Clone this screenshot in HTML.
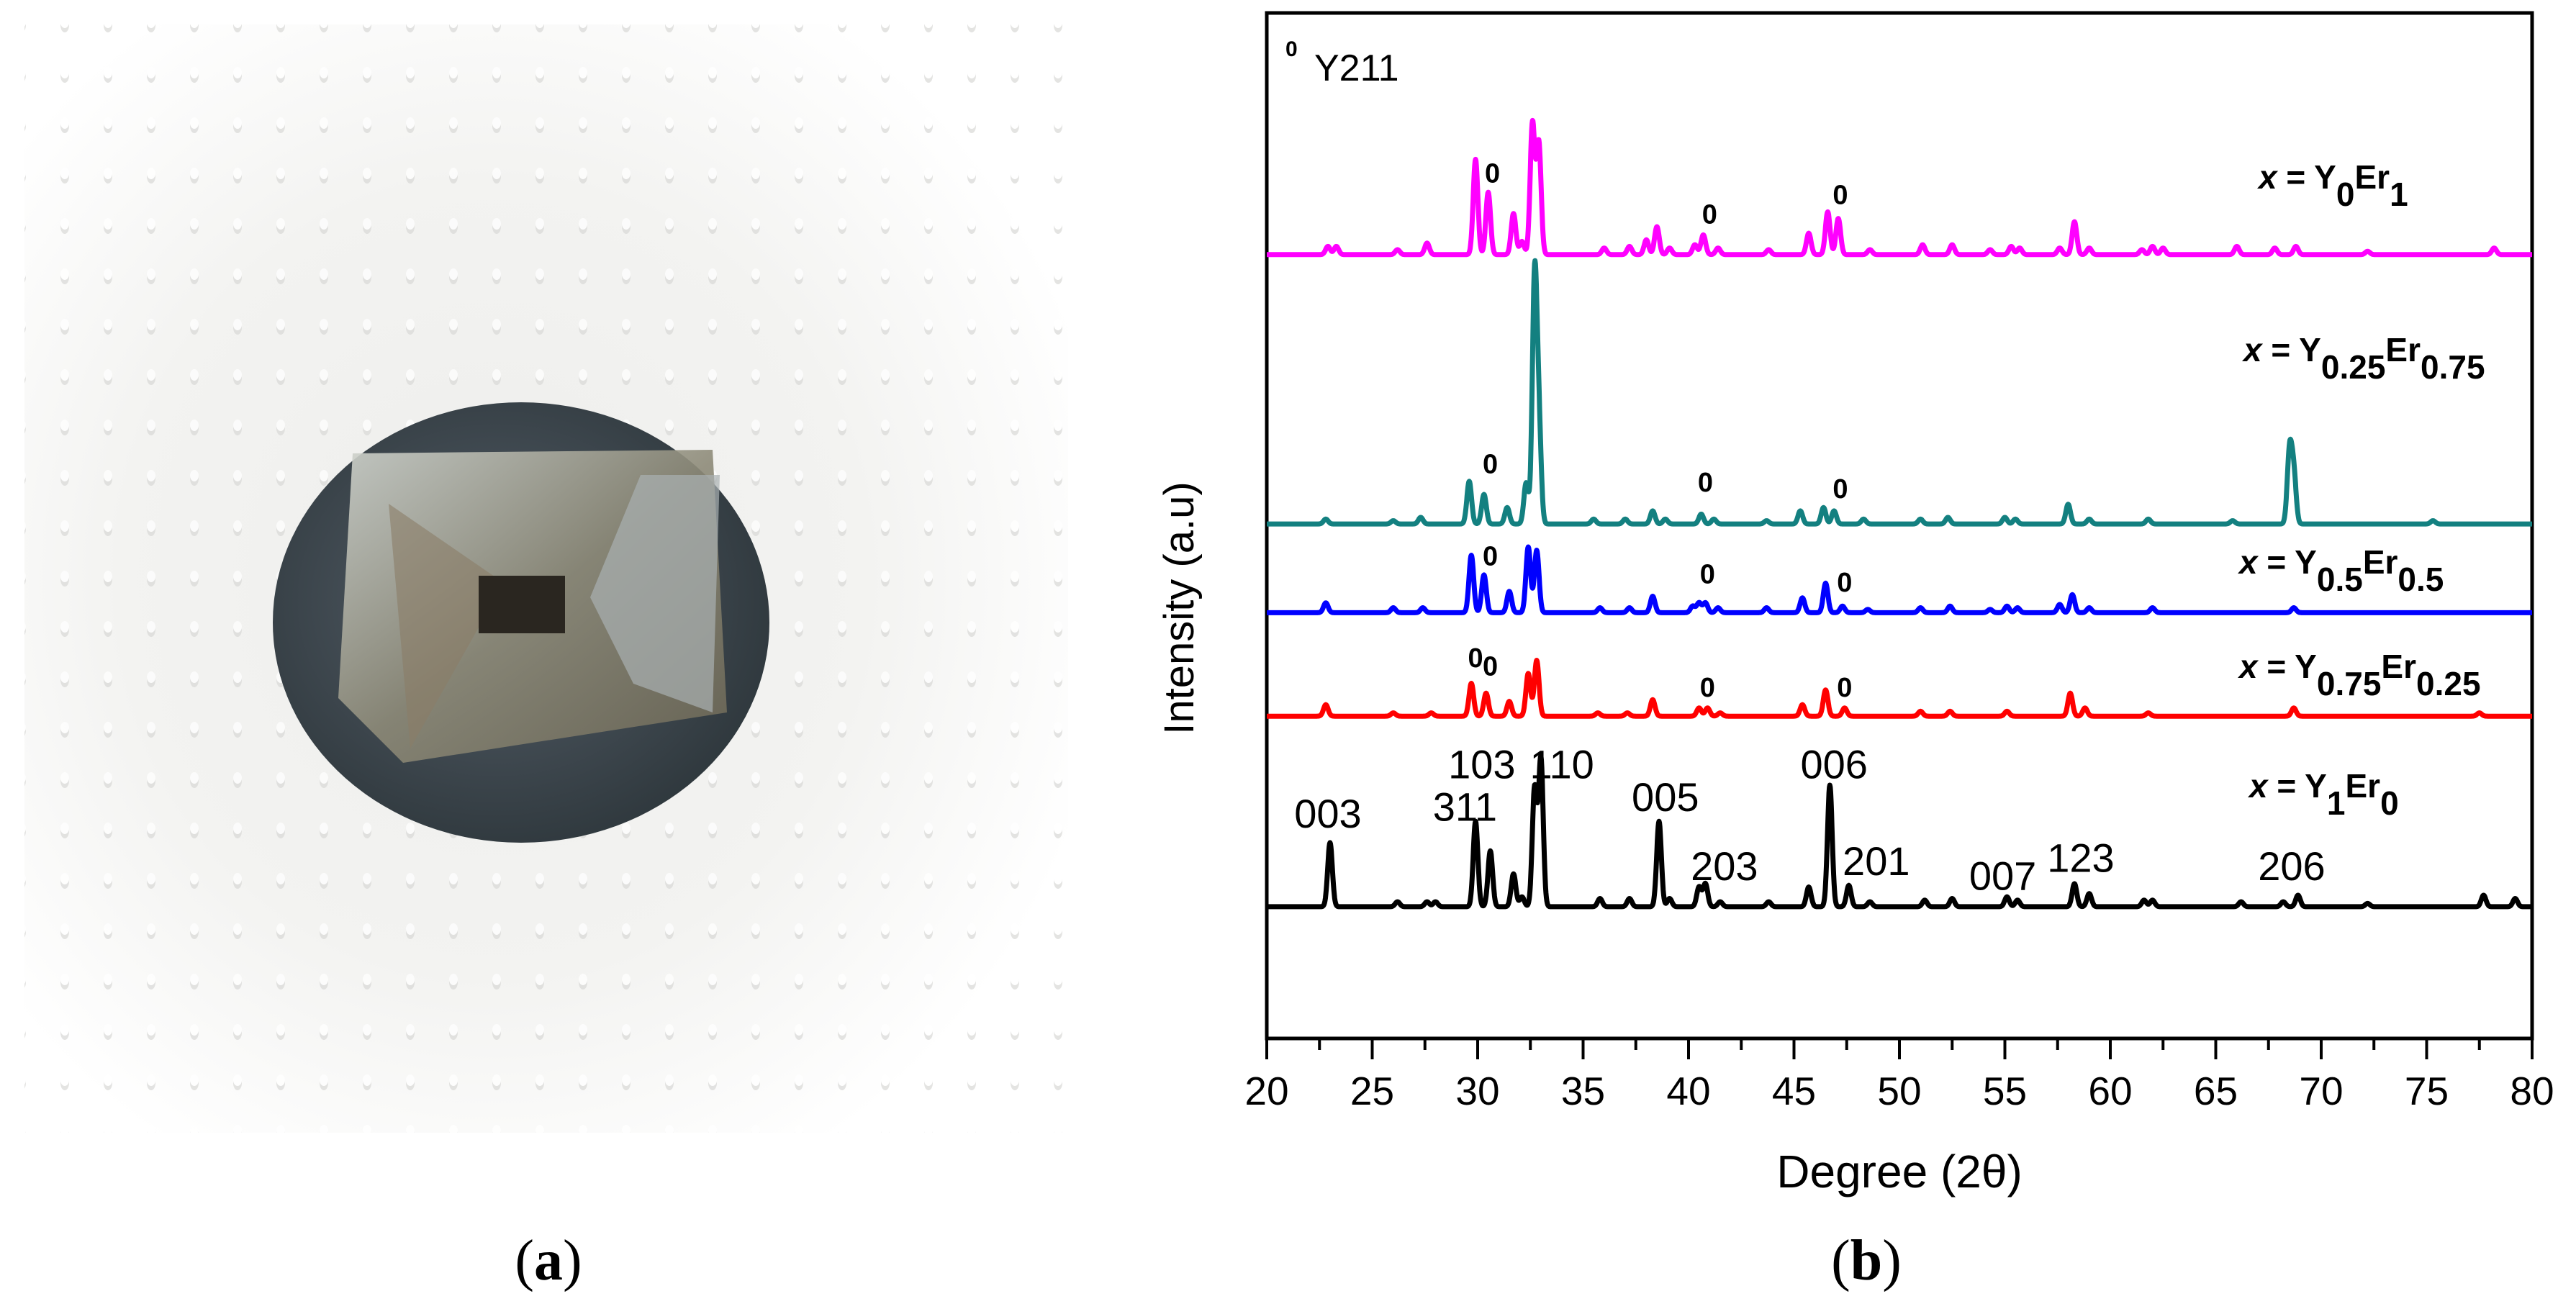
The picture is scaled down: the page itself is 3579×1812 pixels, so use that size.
<!DOCTYPE html>
<html><head><meta charset="utf-8"><style>
html,body{margin:0;padding:0;background:#fff}
svg{display:block}
</style></head><body>
<svg id="fig" width="3579" height="1812" viewBox="0 0 3579 1812" xmlns="http://www.w3.org/2000/svg" font-family="Liberation Sans, sans-serif">
<defs>
<radialGradient id="bg" cx="45%" cy="50%" r="60%">
<stop offset="0" stop-color="#eeeeec"/><stop offset="0.6" stop-color="#f3f3f1"/><stop offset="1" stop-color="#ffffff"/>
</radialGradient>
<radialGradient id="coin" cx="45%" cy="45%" r="60%">
<stop offset="0" stop-color="#56606a"/><stop offset="1" stop-color="#2e373c"/>
</radialGradient>
<linearGradient id="face" x1="0" y1="0" x2="1" y2="1">
<stop offset="0" stop-color="#d0d4ce"/><stop offset="0.5" stop-color="#8d8a78"/><stop offset="1" stop-color="#6b6655"/>
</linearGradient>
<pattern id="dots" width="60" height="70" patternUnits="userSpaceOnUse">
<ellipse cx="30" cy="35" rx="6" ry="10" fill="#d8d8d6"/>
<ellipse cx="30" cy="31" rx="6" ry="8" fill="#ffffff"/>
</pattern>
</defs>
<g>
<rect x="34" y="34" width="1450" height="1540" fill="url(#bg)"/>
<rect x="34" y="34" width="1450" height="1540" fill="url(#dots)" opacity="0.7"/>
<ellipse cx="724" cy="865" rx="345" ry="306" fill="url(#coin)"/>
<path d="M490 630 L990 625 L1010 990 L560 1060 L470 970 Z" fill="url(#face)" opacity="0.9"/>
<path d="M540 700 L700 810 L570 1040 Z" fill="#8a7d68" opacity="0.6"/>
<path d="M890 660 L1000 660 L990 990 L880 950 L820 830 Z" fill="#a9b0b2" opacity="0.7"/>
<rect x="665" y="800" width="120" height="80" fill="#2a2620"/>
</g>
<text x="762" y="1778" font-family="Liberation Serif, serif" font-size="80" text-anchor="middle">(<tspan font-weight="bold">a</tspan>)</text>
<g id="chart"></g>
<text x="2593" y="1778" font-family="Liberation Serif, serif" font-size="80" text-anchor="middle">(<tspan font-weight="bold">b</tspan>)</text>
</svg>
<script>
// ---- data ----
const xTicks = [20,25,30,35,40,45,50,55,60,65,70,75,80];
const seriesNames = ["Y0Er1","Y0.25Er0.75","Y0.5Er0.5","Y0.75Er0.25","Y1Er0"];
const seriesColors = ["#ff00ff","#138080","#0000ff","#ff0000","#000000"];
const pinkPos = [22.9,23.3,26.2,27.6,29.9,30.5,31.7,32.1,32.6,32.9,36,37.2,38.0,38.5,39.1,40.3,40.7,41.4,43.8,45.7,46.6,47.1,48.6,51.1,52.5,54.3,55.3,55.7,57.6,58.3,59,61.5,62,62.5,66,67.8,68.8,72.2,78.2];
const pinkInt = [5,5,3,7,58,38,25,8,80,68,4,5,9,17,4,6,12,4,3,13,26,22,3,6,6,3,5,4,4,20,4,3,5,4,5,4,5,2,4];
const tealPos = [22.8,26,27.3,29.6,30.3,31.4,32.3,32.7,32.9,35.5,37,38.3,38.9,40.6,41.2,43.7,45.3,46.4,46.9,48.3,51,52.3,55,55.5,58.0,59,61.8,65.8,68.5,68.7,75.3];
const tealInt = [3,2,4,26,18,10,25,147,60,3,3,8,3,6,3,2,8,10,8,3,3,4,4,3,12,3,3,2,44,30,2];
const bluePos = [22.8,26,27.4,29.7,30.3,31.5,32.4,32.8,35.8,37.2,38.3,40.2,40.5,40.8,41.4,43.7,45.4,46.5,47.3,48.5,51,52.4,54.3,55.1,55.6,57.6,58.2,59,62,68.7];
const blueInt = [6,3,3,35,23,13,40,38,3,3,10,4,6,6,3,3,9,18,4,2,3,4,2,4,3,5,11,3,3,3];
const redPos = [22.8,26,27.8,29.7,30.4,31.5,32.4,32.8,35.7,37.1,38.3,40.5,40.9,41.5,45.4,46.5,47.4,51,52.4,55.1,58.1,58.8,61.8,68.7,77.5];
const redInt = [7,2,2,20,14,9,26,34,2,2,10,5,5,2,7,16,5,3,3,3,14,5,2,5,2];
const blackPos = [23.0,26.2,27.6,28,29.9,30.6,31.7,32.1,32.7,33.0,35.8,37.2,38.6,39.1,40.5,40.8,41.5,43.8,45.7,46.7,47.6,48.6,51.2,52.5,55.1,55.6,58.3,59,61.6,62,66.2,68.2,68.9,72.2,77.7,79.2];
const blackInt = [39,3,3,3,52,34,20,6,72,90,5,5,52,5,12,14,3,3,12,74,13,3,4,5,6,4,14,8,4,4,3,3,7,2,7,5];
const hklLabels = ["003","311","103","110","005","203","006","201","007","123","206"];
const hklDeg = [22.9,29.4,30.2,34.0,38.9,41.7,46.9,48.9,54.9,58.6,68.6];
const hklY = [495,491,465,465,485,527,465,524,533,522,527];
const y211Deg = [30.7,41.0,47.2, 30.6,40.8,47.2, 30.6,40.9,47.4, 29.9,30.6,40.9,47.4];
const y211Y = [105,130,118, 282,293,297, 338,349,354, 400,405,418,418];
// ---- scales ----
const S = 2.2825;
const PL=1760, PR=3518, PT=18, PB=1443;
function xs(d){ return PL + (d-20)/(80-20)*(PR-PL); }
function ys(v){ return v*S; }
const NS="http://www.w3.org/2000/svg";
const g = document.getElementById('chart');
function mk(tag, attrs, parent){ const e=document.createElementNS(NS,tag); for(const k in attrs) e.setAttribute(k,attrs[k]); (parent||g).appendChild(e); return e; }
const frame = mk('rect',{x:PL,y:PT,width:PR-PL,height:PB-PT,fill:'none',stroke:'#000','stroke-width':5});


for(let d=20; d<=80; d+=2.5){
  const major = (d%5===0);
  const t = mk('line',{x1:xs(d),x2:xs(d),y1:PB,y2:PB+(major?29:16),stroke:'#000','stroke-width':4});
  
  
}
xTicks.forEach(v=>{
  const t = mk('text',{x:xs(v),y:1535,'font-size':55,'text-anchor':'middle'});
  t.textContent = v;
  
  
});
const xt = mk('text',{x:2639,y:1650,'font-size':64,'text-anchor':'middle'});
xt.textContent = 'Degree (2θ)';


const yt = mk('text',{x:0,y:0,'font-size':58,'text-anchor':'middle',transform:'translate(1658,845) rotate(-90)'});
yt.textContent = 'Intensity (a.u)';


const allPos=[pinkPos,tealPos,bluePos,redPos,blackPos];
const allInt=[pinkInt,tealInt,blueInt,redInt,blackInt];
const baselines=[155,319,373,436,552];
for(let s=0;s<5;s++){
  let dstr='';
  for(let i=0;i<=3000;i++){
    const d=20+i*0.02;
    let v=0;
    for(let k=0;k<allPos[s].length;k++){ const w=(d-allPos[s][k])/0.11; v+=allInt[s][k]*Math.exp(-0.5*w*w); }
    dstr += (i?'L':'M')+xs(d).toFixed(1)+' '+ys(baselines[s]-v).toFixed(1);
  }
  const p = mk('path',{d:dstr,fill:'none',stroke:seriesColors[s],'stroke-width':7,'stroke-linejoin':'round'});
  
  
}
hklLabels.forEach((l,i)=>{
  const t = mk('text',{x:xs(hklDeg[i]),y:ys(hklY[i])+20,'font-size':56,'text-anchor':'middle'});
  t.textContent = l;
  
  
});
y211Deg.forEach((d,i)=>{
  const t = mk('text',{x:xs(d),y:ys(y211Y[i])+14,'font-size':38,'font-weight':'bold','text-anchor':'middle'});
  t.textContent = '0';
  
  
});
const n0 = mk('text',{x:1786,y:78,'font-size':30,'font-weight':'bold'});
n0.textContent='0';


const n1 = mk('text',{x:1826,y:112,'font-size':52});
n1.textContent='Y211';


const lab = [
  {x:3138,y:262,a:'0',b:'1'},
  {x:3117,y:502,a:'0.25',b:'0.75'},
  {x:3111,y:797,a:'0.5',b:'0.5'},
  {x:3111,y:942,a:'0.75',b:'0.25'},
  {x:3125,y:1108,a:'1',b:'0'}
];
lab.forEach((L,i)=>{
  const t = mk('text',{x:L.x,y:L.y,'font-size':46,'font-weight':'bold'});
  t.innerHTML = '<tspan font-style="italic">x</tspan> = Y<tspan dy="24">'+L.a+'</tspan><tspan dy="-24">Er</tspan><tspan dy="24">'+L.b+'</tspan>';
  
  
});
</script>
</body></html>
